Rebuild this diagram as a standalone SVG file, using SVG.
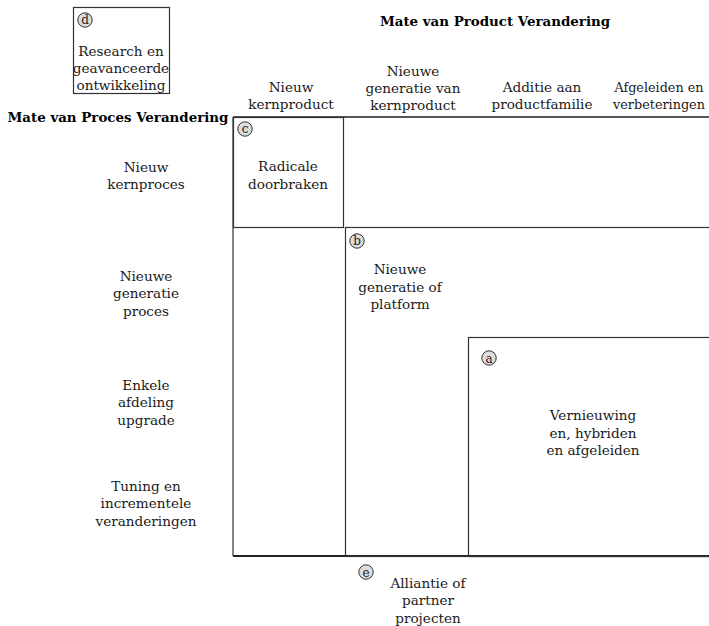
<svg xmlns="http://www.w3.org/2000/svg" width="709" height="626" viewBox="0 0 709 626">
<style>
  text { font-family: "DejaVu Serif", "Liberation Serif", serif; font-size: 13.6px; fill: #1a1a1a; text-anchor: middle; }
  .title { font-weight: bold; font-size: 13.4px; fill: #000; }
  .narrow { font-size: 12.8px; }
  .box { fill: none; stroke: #333; stroke-width: 1.2; }
  .tag circle { fill: #ddd; stroke: #333; stroke-width: 1; }
  .tag text { font-size: 12px; }
  .axis { stroke: #555; stroke-width: 2; fill: none; }
</style>

<!-- axis titles -->
<text class="title" x="495" y="26">Mate van Product Verandering</text>
<text class="title" x="118" y="122">Mate van Proces Verandering</text>

<!-- column headers -->
<g id="col-headers">
  <text x="291" y="92">Nieuw</text><text x="291" y="109">kernproduct</text>
  <text x="413" y="76">Nieuwe</text><text x="413" y="93">generatie van</text><text x="413" y="110">kernproduct</text>
  <text x="542" y="92">Additie aan</text><text x="542" y="109">productfamilie</text>
  <text class="narrow" x="659" y="92">Afgeleiden en</text><text class="narrow" x="659" y="109">verbeteringen</text>
</g>

<!-- row headers -->
<g id="row-headers">
  <text x="146" y="172">Nieuw</text><text x="146" y="189">kernproces</text>
  <text x="146" y="281">Nieuwe</text><text x="146" y="298">generatie</text><text x="146" y="316">proces</text>
  <text x="146" y="390">Enkele</text><text x="146" y="407">afdeling</text><text x="146" y="425">upgrade</text>
  <text x="146" y="491">Tuning en</text><text x="146" y="508">incrementele</text><text x="146" y="526">veranderingen</text>
</g>

<!-- grid axes -->
<g id="connectors">
  <line class="axis" x1="233" y1="117" x2="709" y2="117"/>
  <line class="box" x1="233" y1="117" x2="233" y2="556"/>
  <line class="axis" x1="233" y1="556" x2="709" y2="556" style="stroke:#222"/>
</g>

<!-- d: research -->
<g id="node-d">
  <rect class="box" x="73.5" y="7.5" width="96" height="86"/>
  <g class="tag"><circle cx="85" cy="20" r="7.2"/><text x="85" y="24">d</text></g>
  <text x="121" y="56">Research en</text><text x="121" y="73">geavanceerde</text><text x="121" y="90">ontwikkeling</text>
</g>

<!-- c: radical breakthroughs -->
<g id="node-c">
  <rect class="box" x="233.5" y="117.5" width="110" height="110"/>
  <g class="tag"><circle cx="245" cy="129" r="7.2"/><text x="245" y="133">c</text></g>
  <text x="288" y="171">Radicale</text><text x="288" y="189">doorbraken</text>
</g>

<!-- b: platform -->
<g id="node-b">
  <rect class="box" x="345.5" y="227.5" width="366" height="329"/>
  <g class="tag"><circle cx="357" cy="241" r="7.2"/><text x="357" y="245">b</text></g>
  <text x="400" y="274">Nieuwe</text><text x="400" y="292">generatie of</text><text x="400" y="309">platform</text>
</g>

<!-- a: derivatives -->
<g id="node-a">
  <rect class="box" x="468.5" y="337.5" width="243" height="219"/>
  <g class="tag"><circle cx="489" cy="358" r="7.2"/><text x="489" y="362.5">a</text></g>
  <text x="593" y="420">Vernieuwing</text><text x="593" y="438">en, hybriden</text><text x="593" y="455">en afgeleiden</text>
</g>

<!-- e: alliances -->
<g id="node-e">
  <g class="tag"><circle cx="366" cy="572" r="7.2"/><text x="366" y="576.5">e</text></g>
  <text x="428" y="588">Alliantie of</text><text x="428" y="605">partner</text><text x="428" y="623">projecten</text>
</g>
</svg>
